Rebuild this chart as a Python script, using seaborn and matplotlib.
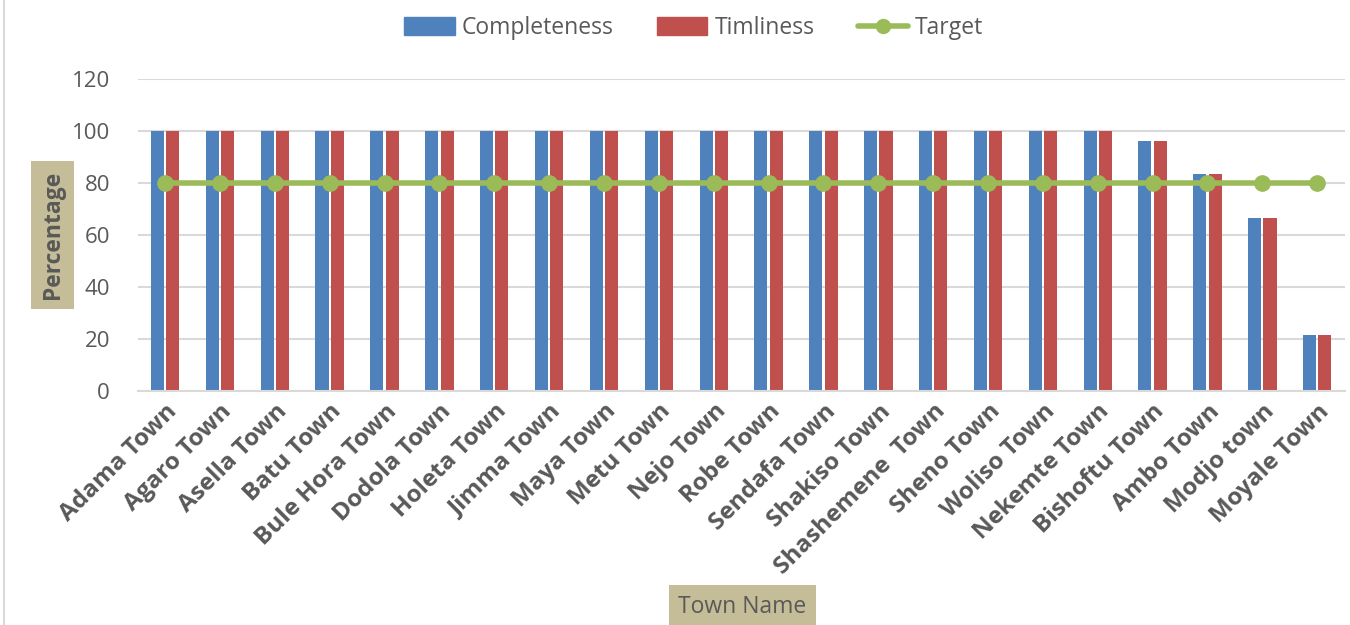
import numpy as np
import pandas as pd
import matplotlib.pyplot as plt
import seaborn as sns
from matplotlib.lines import Line2D

towns = ['Adama Town', 'Agaro Town', 'Asella Town', 'Batu Town', 'Bule Hora Town',
         'Dodola Town', 'Holeta Town', 'Jimma Town', 'Maya Town', 'Metu Town',
         'Nejo Town', 'Robe Town', 'Sendafa Town', 'Shakiso Town', 'Shashemene  Town',
         'Sheno Town', 'Woliso Town', 'Nekemte Town', 'Bishoftu Town', 'Ambo Town',
         'Modjo town', 'Moyale Town']
completeness = [100] * 18 + [96, 83.3, 66.7, 21.4]
timliness = [100] * 18 + [96, 83.3, 66.7, 21.4]
target = [80] * 22

df = pd.DataFrame({
    'Town': towns * 2,
    'Value': completeness + timliness,
    'Series': ['Completeness'] * len(towns) + ['Timliness'] * len(towns),
})

sns.set_theme(style='white')
plt.rcParams['font.family'] = ['Open Sans', 'DejaVu Sans']
grey = '#595959'

fig = plt.figure(figsize=(13.5, 6.25), dpi=100)
ax = fig.add_axes([0.102, 0.3744, 0.894, 0.4992])

sns.barplot(data=df, x='Town', y='Value', hue='Series', order=towns,
            palette=['#4F81BD', '#C0504D'], saturation=1, width=0.56, gap=0.15,
            edgecolor='none', ax=ax, legend=False)
ax.plot(np.arange(len(towns)), target, color='#9BBB59', lw=4, marker='o',
        ms=11, zorder=5)

ax.set_ylim(0, 120)
ax.set_xlim(-0.5, len(towns) - 0.5)
ax.set_yticks(range(0, 121, 20))
ax.yaxis.grid(True, color='#D9D9D9', lw=1.5)
ax.set_axisbelow(True)
for s in ['top', 'right', 'left']:
    ax.spines[s].set_visible(False)
ax.spines['bottom'].set_color('#D9D9D9')
ax.spines['bottom'].set_linewidth(1.5)
ax.tick_params(axis='y', labelsize=16, colors=grey, length=0, pad=20)
ax.tick_params(axis='x', length=0, pad=6)
ax.set_xticks(range(len(towns)))
ax.set_xticklabels(towns, rotation=45, ha='right', rotation_mode='anchor',
                   fontsize=17.5, fontweight='bold', color=grey)
ax.set_xlabel('')
ax.set_ylabel('')

fig.text(0.039, 0.624, 'Percentage', rotation=90, ha='center', va='center',
         fontsize=16.5, fontweight='bold', color=grey,
         bbox=dict(facecolor='#C4BD97', edgecolor='none', pad=7))
fig.text(0.55, 0.029, 'Town Name', ha='center', va='center', fontsize=16.5,
         color=grey, bbox=dict(facecolor='#C4BD97', edgecolor='none', pad=7))

handles = [plt.Rectangle((0, 0), 1, 1, color='#4F81BD'),
           plt.Rectangle((0, 0), 1, 1, color='#C0504D'),
           Line2D([], [], color='#9BBB59', lw=4, marker='o', ms=10)]
fig.legend(handles, ['Completeness', 'Timliness', 'Target'], loc='center',
           bbox_to_anchor=(0.514, 0.955), ncol=3, frameon=False, fontsize=16.5,
           handlelength=2.2, handleheight=0.8, columnspacing=1.9,
           handletextpad=0.3, labelcolor=grey)

fig.add_artist(Line2D([0.003, 0.003], [0, 1], color='#D9D9D9', lw=1.5,
                      transform=fig.transFigure))

fig.savefig('out.png', dpi=100)
